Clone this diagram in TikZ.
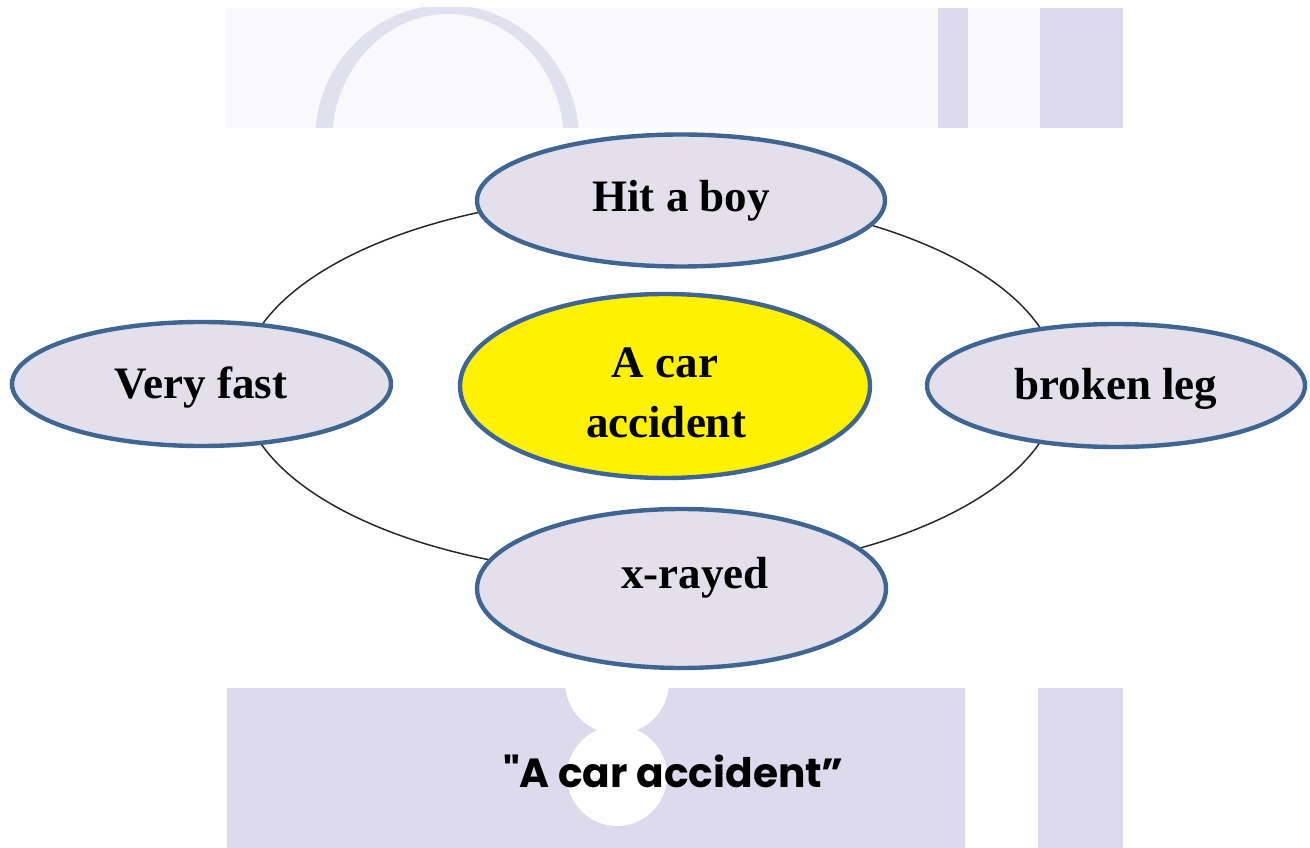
\documentclass[tikz,border=0pt]{standalone}
\usepackage{fontspec}
\setmainfont{Liberation Serif}
\newfontfamily\capfont{Poppins}
\usetikzlibrary{shapes.geometric}
\definecolor{bubble}{HTML}{E3DFEB}
\definecolor{rim}{HTML}{3F6593}
\definecolor{wm}{HTML}{DCDAEC}
\definecolor{wmlight}{HTML}{F9F9FC}
\begin{document}
\begin{tikzpicture}[x=0.75pt,y=-0.75pt,
  bub/.style={ellipse, draw=rim, line width=3.3pt, fill=bubble, inner sep=0pt},
  lbl/.style={anchor=base, inner sep=0pt, font=\fontsize{33.75pt}{44.25pt}\selectfont\bfseries}]
\useasboundingbox (0,0) rectangle (1310,848);
\fill[white] (0,0) rectangle (1310,848);
% faint slide watermark, top band
\fill[wmlight] (225,8) rectangle (1123,128);
\begin{scope}
  \clip (225,8) rectangle (1123,128);
  \fill[wm!85!white, even odd rule] (447,140) ellipse [x radius=132, y radius=135]
                           (448,142) ellipse [x radius=116, y radius=128];
\end{scope}
\fill[wm] (938,8) rectangle (968,128);
\fill[wm] (1040,8) rectangle (1123,128);
% faint slide watermark, bottom band
\fill[wm] (227,688) rectangle (1123,848);
\begin{scope}
  \clip (227,688) rectangle (1123,848);
  \fill[white] (617,682) circle [radius=52];
  \fill[white] (617,776) circle [radius=50];
\end{scope}
\fill[white] (965,688) rectangle (1038,848);
% ring behind the bubbles
\draw[line width=1.1pt, black!85] (650,385) ellipse [x radius=409, y radius=190];
% bubbles
\node[bub, minimum width=408*0.75pt, minimum height=132*0.75pt] (hit) at (681,200.5) {};
\node[bub, minimum width=379*0.75pt, minimum height=124*0.75pt] (fast) at (201.5,384) {};
\node[bub, minimum width=378*0.75pt, minimum height=123*0.75pt] (leg) at (1116,385.5) {};
\node[bub, minimum width=409*0.75pt, minimum height=159*0.75pt] (xray) at (681.5,588.5) {};
\node[bub, fill=yellow, minimum width=410*0.75pt, minimum height=184*0.75pt] (acc) at (665,386) {};
% labels
\node[lbl] (hitT) at (681,212) {Hit a boy};
\node[lbl] (fastT) at (201,398) {Very fast};
\node[lbl] (legT) at (1116,400) {broken leg};
\node[lbl] (xrayT) at (695,588) {x-rayed};
\node[lbl] (accTa) at (665,378) {A car};
\node[lbl] (accTb) at (666,437) {accident};
% caption
\node[anchor=base, inner sep=0pt, font=\capfont\bfseries\fontsize{30.5pt}{36pt}\selectfont] (cap) at (673.5,787) {"A car accident”};
\end{tikzpicture}
\end{document}
